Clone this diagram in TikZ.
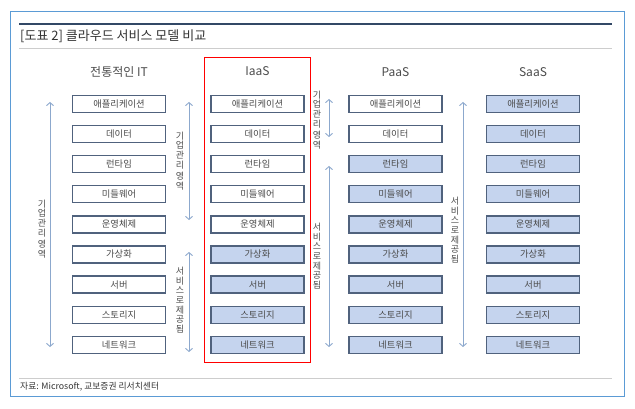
\documentclass[tikz,border=0pt]{standalone}
\usepackage{fontspec}
\setmainfont{Noto Sans CJK KR}
\usetikzlibrary{arrows.meta}
\definecolor{framebl}{RGB}{91,155,213}
\definecolor{navy}{RGB}{50,72,102}
\definecolor{rulegray}{RGB}{205,205,205}
\definecolor{boxedge}{RGB}{80,98,125}
\definecolor{boxfill}{RGB}{197,212,238}
\definecolor{arr}{RGB}{140,168,205}
\definecolor{txt}{RGB}{75,75,75}
\begin{document}
\begin{tikzpicture}[x=1pt,y=-1pt,
  layer/.style={draw=boxedge, line width=1.4pt, minimum width=93pt, minimum height=17pt, inner sep=0pt, font=\fontsize{9.3}{10}\selectfont, text=txt, fill=white},
  prov/.style={layer, fill=boxfill},
  spanarrow/.style={draw=arr, line width=0.9pt, {Straight Barb[length=3pt,width=7pt]}-{Straight Barb[length=3pt,width=7pt]}},
  vlabel/.style={font=\fontsize{9}{9.6}\selectfont, text=txt, align=center, inner sep=0pt},
  head/.style={font=\fontsize{12}{14}\selectfont, text=txt}]
\useasboundingbox (0,0) rectangle (635,409);
% frame and title
\draw[framebl, line width=0.9pt] (10,11) rectangle (624,396);
\draw[navy, line width=2pt] (19,24) -- (612,24);
\node[anchor=west, font=\fontsize{13}{15}\selectfont, text=black!80, inner sep=0pt] (title) at (20,36) {[도표 2] 클라우드 서비스 모델 비교};
\draw[rulegray, line width=0.8pt] (19,48) -- (612,48);
\draw[rulegray, line width=0.8pt] (19,378) -- (612,378);
\node[anchor=west, font=\fontsize{8.8}{10}\selectfont, text=black!80, inner sep=0pt] (src) at (20,387) {자료: Microsoft, 교보증권 리서치센터};
% red highlight
\draw[red, line width=0.9pt] (204,57) rectangle (310,362);
% headers
\node[head] (ht) at (119,72) {전통적인 IT};
\node[head] (hi) at (257.5,71) {IaaS};
\node[head] (hp) at (395.5,72) {PaaS};
\node[head] (hs) at (533,72) {SaaS};
% traditional IT
\foreach \nm [count=\r] in {애플리케이션,데이터,런타임,미들웨어,운영체제,가상화,서버,스토리지,네트워크}
  \node[layer] (t\r) at (119,{104+30.1*(\r-1)}) {\nm};
% IaaS
\foreach \nm [count=\r] in {애플리케이션,데이터,런타임,미들웨어,운영체제}
  \node[layer] (i\r) at (257.5,{104+30.1*(\r-1)}) {\nm};
\foreach \nm [count=\r from 6] in {가상화,서버,스토리지,네트워크}
  \node[prov] (i\r) at (257.5,{104+30.1*(\r-1)}) {\nm};
% PaaS
\foreach \nm [count=\r] in {애플리케이션,데이터}
  \node[layer] (p\r) at (395.5,{104+30.1*(\r-1)}) {\nm};
\foreach \nm [count=\r from 3] in {런타임,미들웨어,운영체제,가상화,서버,스토리지,네트워크}
  \node[prov] (p\r) at (395.5,{104+30.1*(\r-1)}) {\nm};
% SaaS
\foreach \nm [count=\r] in {애플리케이션,데이터,런타임,미들웨어,운영체제,가상화,서버,스토리지,네트워크}
  \node[prov] (s\r) at (533,{104+30.1*(\r-1)}) {\nm};
% span arrows
\coordinate (ta) at (50,102); \coordinate (tb) at (50,347);
\draw[spanarrow] (ta) -- (tb);
\node[vlabel] (tl) at (42,229) {기\\업\\관\\리\\[2pt]영\\역};
\coordinate (ia) at (189,102); \coordinate (ib) at (189,220);
\draw[spanarrow] (ia) -- (ib);
\node[vlabel] (il1) at (180,161) {기\\업\\관\\리\\[2pt]영\\역};
\coordinate (ic) at (189,252); \coordinate (id) at (189,352);
\draw[spanarrow] (ic) -- (id);
\node[vlabel] (il2) at (180,300) {서\\비\\스\\로\\제\\공\\됨};
\coordinate (pa) at (329,99); \coordinate (pb) at (329,137);
\draw[spanarrow] (pa) -- (pb);
\node[vlabel] (pl1) at (317,120) {기\\업\\관\\리\\[2pt]영\\역};
\coordinate (pc) at (329,166); \coordinate (pd) at (329,347);
\draw[spanarrow] (pc) -- (pd);
\node[vlabel] (pl2) at (317,256) {서\\비\\스\\로\\제\\공\\됨};
\coordinate (sa) at (463,102); \coordinate (sb) at (463,347);
\draw[spanarrow] (sa) -- (sb);
\node[vlabel] (sl) at (455,230) {서\\비\\스\\로\\제\\공\\됨};
\end{tikzpicture}
\end{document}
